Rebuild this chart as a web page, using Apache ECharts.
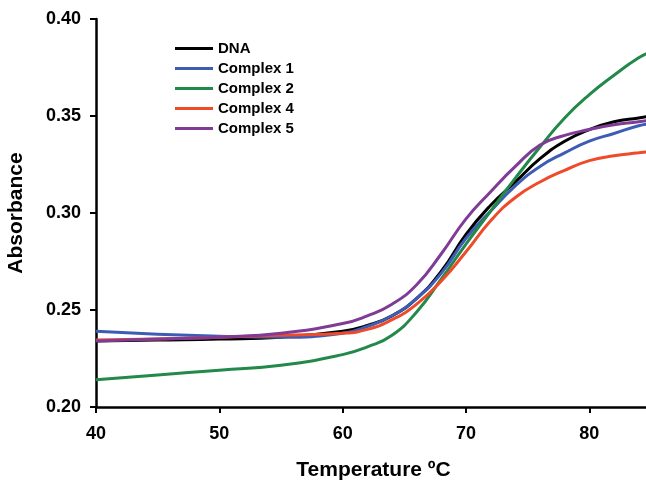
<!DOCTYPE html>
<html>
<head>
<meta charset="utf-8">
<script src="https://cdn.jsdelivr.net/npm/echarts@6/dist/echarts.min.js"></script>
<style>
  html, body { margin: 0; padding: 0; background: #fff; }
  #chart { width: 646px; height: 481px; }
</style>
</head>
<body>
<div id="chart"></div>
<script>
var temps = [40, 45, 50, 55, 60, 62, 64, 66, 68, 70, 72, 74, 76, 78, 80, 82, 84, 85];

var dna      = [0.234, 0.2345, 0.235, 0.236, 0.239, 0.242, 0.247, 0.256, 0.270, 0.289, 0.304, 0.316, 0.328, 0.337, 0.343, 0.347, 0.349, 0.350];
var complex1 = [0.239, 0.2375, 0.2365, 0.236, 0.238, 0.2415, 0.247, 0.256, 0.269, 0.287, 0.301, 0.314, 0.324, 0.331, 0.337, 0.341, 0.345, 0.346];
var complex2 = [0.214, 0.2165, 0.219, 0.2215, 0.227, 0.231, 0.237, 0.249, 0.266, 0.284, 0.301, 0.318, 0.334, 0.349, 0.361, 0.371, 0.380, 0.383];
var complex4 = [0.2345, 0.235, 0.236, 0.237, 0.238, 0.240, 0.245, 0.253, 0.265, 0.280, 0.296, 0.308, 0.316, 0.322, 0.327, 0.3295, 0.331, 0.3318];
var complex5 = [0.234, 0.235, 0.236, 0.238, 0.243, 0.247, 0.253, 0.263, 0.279, 0.297, 0.311, 0.324, 0.335, 0.340, 0.343, 0.3455, 0.347, 0.348];

var seriesNames = ['DNA', 'Complex 1', 'Complex 2', 'Complex 4', 'Complex 5'];
var seriesData = [dna, complex1, complex2, complex4, complex5];
var seriesColors = ['#000000', '#3d5cb4', '#22894a', '#ee4b2b', '#7f3b96'];

var yTicks = [0.20, 0.25, 0.30, 0.35, 0.40];
var xTicks = [40, 50, 60, 70, 80];

var fontFam = '"Liberation Sans", Arial, Helvetica, sans-serif';

function pairs(ys) {
    return temps.map(function(t, i) { return [t, ys[i]]; });
}

var chart = echarts.init(document.getElementById('chart'));

var option = {
    animation: false,
    backgroundColor: '#ffffff',
    grid: {
        left: 96,
        right: -5,   // axis runs past the right edge, as in the figure
        top: 19,
        bottom: 74,
        outerBoundsMode: 'none'
    },
    legend: {
        orient: 'vertical',
        left: 175,
        top: 41,
        padding: 0,
        icon: 'rect',
        itemWidth: 38,
        itemHeight: 3,
        itemGap: 5,
        data: seriesNames,
        textStyle: {
            fontFamily: fontFam,
            fontWeight: 'bold',
            fontSize: 15,
            lineHeight: 15,
            color: '#000'
        }
    },
    xAxis: {
        type: 'value',
        min: 40,
        max: 85,
        interval: 10,
        name: 'Temperature ºC',
        nameLocation: 'middle',
        nameGap: 53,
        nameTextStyle: {
            fontFamily: fontFam,
            fontWeight: 'bold',
            fontSize: 21,
            color: '#000'
        },
        axisLine: { lineStyle: { color: '#000', width: 2.5 } },
        axisTick: { length: 6, lineStyle: { color: '#000', width: 2 } },
        splitLine: { show: false },
        axisLabel: {
            showMaxLabel: false,
            margin: 18,
            fontFamily: fontFam,
            fontWeight: 'bold',
            fontSize: 18,
            color: '#000',
            formatter: function(v) {
                return xTicks.indexOf(v) >= 0 ? String(v) : '';
            }
        }
    },
    yAxis: {
        type: 'value',
        min: 0.20,
        max: 0.40,
        interval: 0.05,
        name: 'Absorbance',
        nameLocation: 'middle',
        nameRotate: 90,
        nameGap: 69,
        nameTextStyle: {
            fontFamily: fontFam,
            fontWeight: 'bold',
            fontSize: 21,
            color: '#000'
        },
        axisLine: { show: true, lineStyle: { color: '#000', width: 2.5 } },
        axisTick: { show: true, length: 6, lineStyle: { color: '#000', width: 2 } },
        splitLine: { show: false },
        axisLabel: {
            margin: 15,
            fontFamily: fontFam,
            fontWeight: 'bold',
            fontSize: 18,
            color: '#000',
            formatter: function(v) {
                var s = v.toFixed(2);
                return yTicks.map(function(t) { return t.toFixed(2); }).indexOf(s) >= 0 ? s : '';
            }
        }
    },
    series: seriesNames.map(function(name, i) {
        return {
            name: name,
            type: 'line',
            smooth: 0.5,
            showSymbol: false,
            symbol: 'none',
            color: seriesColors[i],
            lineStyle: { width: 3, color: seriesColors[i] },
            data: pairs(seriesData[i])
        };
    })
};

chart.setOption(option);
</script>
</body>
</html>
